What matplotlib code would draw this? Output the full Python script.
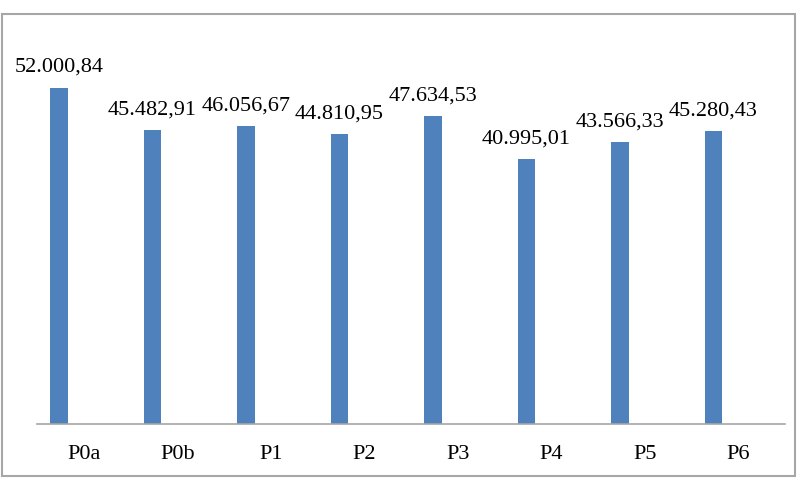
import matplotlib.pyplot as plt
from matplotlib.patches import Rectangle

categories = ['P0a', 'P0b', 'P1', 'P2', 'P3', 'P4', 'P5', 'P6']
values = [52000.84, 45482.91, 46056.67, 44810.95, 47634.53, 40995.01, 43566.33, 45280.43]


def fmt(v):
    # european style: 52.000,84
    s = '{:,.2f}'.format(v)
    return s.replace(',', 'X').replace('.', ',').replace('X', '.')


plt.rcParams['font.family'] = ['Liberation Serif', 'DejaVu Serif']

fig = plt.figure(figsize=(8, 4.88), dpi=100)
fig.patches.append(Rectangle((2 / 800, 1 - 476 / 488), 793 / 800, 462 / 488,
                             transform=fig.transFigure, fill=False,
                             edgecolor='#a6a6a6', linewidth=1.5))

ax = fig.add_axes([37 / 800, 1 - 424 / 488, 748 / 800, (424 - 36.3) / 488])
x = list(range(len(categories)))
xb = [i - 0.265 for i in x]
ax.bar(xb, values, width=0.19, color='#4f81bd')

for xi, v in zip(xb, values):
    ax.annotate(fmt(v), (xi, v), xytext=(0, 11.5), textcoords='offset points',
                ha='center', va='baseline', fontsize=16)

ax.set_xlim(-0.5, 7.5)
ax.set_ylim(0, 60000)
ax.set_xticks(x)
ax.set_xticklabels(categories, fontsize=16)
ax.tick_params(axis='x', length=0, pad=15)
ax.set_yticks([])
for s in ['top', 'right', 'left']:
    ax.spines[s].set_visible(False)
ax.spines['bottom'].set_color('#a6a6a6')
ax.spines['bottom'].set_linewidth(1.2)

fig.savefig('out.png', dpi=100)
